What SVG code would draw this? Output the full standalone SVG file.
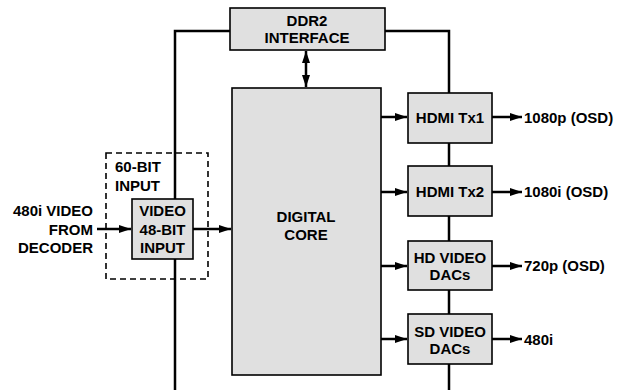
<svg xmlns="http://www.w3.org/2000/svg" width="620" height="390" viewBox="0 0 620 390">
<defs>
<marker id="ah" viewBox="0 0 12 8" refX="12" refY="4" markerWidth="12" markerHeight="8" markerUnits="userSpaceOnUse" orient="auto-start-reverse">
<path d="M0,0 L12,4 L0,8 Z" fill="#000"/>
</marker>
</defs>
<style>
.box{fill:#e0e0e0;stroke:#000;stroke-width:1.6}
.t{font-family:"Liberation Sans",Arial,sans-serif;font-weight:bold;font-size:15px;fill:#000}
.c{text-anchor:middle}
.r{text-anchor:end}
.ln{stroke:#000;stroke-width:2.5;fill:none}
.ar{stroke:#000;stroke-width:2.5;fill:none;marker-end:url(#ah)}
</style>
<rect width="620" height="390" fill="#fff"/>
<g id="connectors">
<polyline class="ln" points="230,31 175,31 175,390"/>
<polyline class="ln" points="385,31 449,31 449,93"/>
<line class="ln" x1="449" y1="143" x2="449" y2="166"/>
<line class="ln" x1="449" y1="216" x2="449" y2="241"/>
<line class="ln" x1="449" y1="290" x2="449" y2="314"/>
<line class="ln" x1="449" y1="364" x2="449" y2="390"/>
<line class="ar" x1="306" y1="51" x2="306" y2="87" style="marker-start:url(#ah)"/>
<line class="ar" x1="97" y1="229" x2="131" y2="229"/>
<line class="ar" x1="193" y1="229" x2="231" y2="229"/>
<line class="ar" x1="381" y1="117" x2="407" y2="117"/>
<line class="ar" x1="381" y1="192" x2="407" y2="192"/>
<line class="ar" x1="381" y1="266" x2="407" y2="266"/>
<line class="ar" x1="381" y1="339" x2="407" y2="339"/>
<line class="ar" x1="492" y1="117" x2="522" y2="117"/>
<line class="ar" x1="492" y1="192" x2="522" y2="192"/>
<line class="ar" x1="492" y1="266" x2="522" y2="266"/>
<line class="ar" x1="492" y1="339" x2="522" y2="339"/>
</g>
<g id="ddr2">
<rect class="box" x="230" y="8" width="155" height="42"/>
<text class="t c" x="307" y="26">DDR2</text>
<text class="t c" x="307" y="43">INTERFACE</text>
</g>
<g id="core">
<rect class="box" x="232" y="88" width="149" height="287"/>
<text class="t c" x="306" y="222">DIGITAL</text>
<text class="t c" x="306" y="240">CORE</text>
</g>
<g id="input60">
<rect x="106" y="153" width="102" height="126" fill="none" stroke="#000" stroke-width="1.6" stroke-dasharray="6,4"/>
<text class="t" x="115" y="172">60-BIT</text>
<text class="t" x="115" y="191">INPUT</text>
</g>
<g id="video48">
<rect class="box" x="132" y="199" width="61" height="60"/>
<text class="t c" x="162.5" y="216">VIDEO</text>
<text class="t c" x="162.5" y="235">48-BIT</text>
<text class="t c" x="162.5" y="253">INPUT</text>
</g>
<g id="source">
<text class="t r" x="93" y="216">480i VIDEO</text>
<text class="t r" x="93" y="235">FROM</text>
<text class="t r" x="93" y="253">DECODER</text>
</g>
<g id="hdmi1">
<rect class="box" x="408" y="93" width="84" height="50"/>
<text class="t c" x="450" y="123">HDMI Tx1</text>
</g>
<g id="hdmi2">
<rect class="box" x="408" y="166" width="84" height="50"/>
<text class="t c" x="450" y="197">HDMI Tx2</text>
</g>
<g id="hddac">
<rect class="box" x="408" y="241" width="84" height="49"/>
<text class="t c" x="450" y="263">HD VIDEO</text>
<text class="t c" x="450" y="280">DACs</text>
</g>
<g id="sddac">
<rect class="box" x="408" y="314" width="84" height="50"/>
<text class="t c" x="450" y="337">SD VIDEO</text>
<text class="t c" x="450" y="354">DACs</text>
</g>
<g id="outputs">
<text class="t" x="524" y="123">1080p (OSD)</text>
<text class="t" x="524" y="197">1080i (OSD)</text>
<text class="t" x="524" y="271">720p (OSD)</text>
<text class="t" x="524" y="345">480i</text>
</g>
</svg>
